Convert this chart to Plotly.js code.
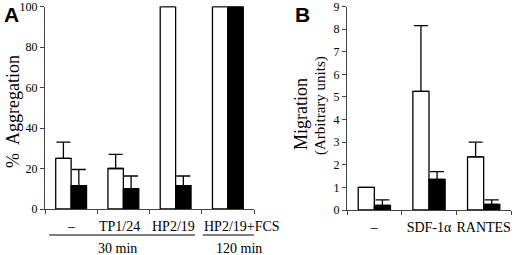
<!DOCTYPE html>
<html>
<head>
<meta charset="utf-8">
<script src="https://cdn.plot.ly/plotly-3.0.1.min.js"></script>
<style>html,body{margin:0;padding:0;background:#fff}#chart{width:520px;height:255px}</style>
</head>
<body>
<div id="chart"></div>
<script>
// Panel A data
var catsA = ['–', 'TP1/24', 'HP2/19', 'HP2/19+FCS'];
var whiteA = [25, 20, 100, 100];
var whiteAErr = [8, 7, 0, 0];
var blackA = [11.5, 10, 11.5, 100];
var blackAErr = [8, 6.3, 4.8, 0];
var ticksA = [0, 20, 40, 60, 80, 100];
var groupsA = ['30 min', '120 min'];

// Panel B data
var catsB = ['–', 'SDF-1α', 'RANTES'];
var whiteB = [1.0, 5.25, 2.35];
var whiteBErr = [0, 2.9, 0.65];
var blackB = [0.2, 1.35, 0.25];
var blackBErr = [0.25, 0.35, 0.2];
var ticksB = [0, 1, 2, 3, 4, 5, 6, 7, 8, 9];

var serif = 'Liberation Serif, Times New Roman, serif';
var sans = 'Liberation Sans, Arial, sans-serif';

function errObj(arr) {
  return {type: 'data', array: arr, symmetric: false, arrayminus: arr.map(function(){return 0;}),
          color: '#000', thickness: 1.3, width: 7};
}

var data = [
  {type: 'bar', x: catsA, y: whiteA, xaxis: 'x', yaxis: 'y',
   marker: {color: '#fff', line: {color: '#000', width: 1.3}}, error_y: errObj(whiteAErr)},
  {type: 'bar', x: catsA, y: blackA, xaxis: 'x', yaxis: 'y',
   marker: {color: '#000', line: {color: '#000', width: 1.3}}, error_y: errObj(blackAErr)},
  {type: 'bar', x: catsB, y: whiteB, xaxis: 'x2', yaxis: 'y2',
   marker: {color: '#fff', line: {color: '#000', width: 1.3}}, error_y: errObj(whiteBErr)},
  {type: 'bar', x: catsB, y: blackB, xaxis: 'x2', yaxis: 'y2',
   marker: {color: '#000', line: {color: '#000', width: 1.3}}, error_y: errObj(blackBErr)}
];

var axBase = {showline: true, linecolor: '#444', linewidth: 1, ticks: 'outside', ticklen: 4,
  tickcolor: '#444', showgrid: false, zeroline: false, fixedrange: true, ticklabeloverflow: 'allow',
  tickfont: {family: serif, size: 12, color: '#000'}};

function ax(extra) { var o = {}; for (var k in axBase) o[k] = axBase[k]; for (var e in extra) o[e] = extra[e]; return o; }

var catFont = {family: serif, size: 14, color: '#000'};

// category labels of panel A as annotations (the last one sits right of its slot, as in the figure)
var catShiftA = [0, -4, -2, 14];
var annotations = catsA.map(function(c, i) {
  return {text: c, xref: 'x', yref: 'paper', x: c, y: 29/255, xshift: catShiftA[i],
          showarrow: false, font: catFont, xanchor: 'center', yanchor: 'middle'};
});
annotations = annotations.concat([
  {text: groupsA[0], xref: 'x', yref: 'paper', x: catsA[1], y: 7/255, xshift: -6, showarrow: false,
   font: catFont, xanchor: 'center', yanchor: 'middle'},
  {text: groupsA[1], xref: 'x', yref: 'paper', x: catsA[3], y: 7/255, xshift: 11, showarrow: false,
   font: catFont, xanchor: 'center', yanchor: 'middle'},
  {text: '%  Aggregation', xref: 'paper', yref: 'paper', x: 13/520, y: 143/255, textangle: -90,
   xanchor: 'center', yanchor: 'middle',
   showarrow: false, font: {family: serif, size: 18, color: '#000'}},
  {text: 'Migration', xref: 'paper', yref: 'paper', x: 301/520, y: 141/255,
   xanchor: 'center', yanchor: 'middle',
   textangle: -90, showarrow: false, font: {family: serif, size: 18, color: '#000'}},
  {text: '(Arbitrary units)', xref: 'paper', yref: 'paper', x: 321/520, y: 149/255,
   xanchor: 'center', yanchor: 'middle',
   textangle: -90, showarrow: false, font: {family: serif, size: 15, color: '#000'}},
  {text: '<b>A</b>', xref: 'paper', yref: 'paper', x: 11/520, y: 241/255, showarrow: false,
   xanchor: 'center', yanchor: 'middle', font: {family: sans, size: 21, color: '#000'}},
  {text: '<b>B</b>', xref: 'paper', yref: 'paper', x: 302/520, y: 241/255, showarrow: false,
   xanchor: 'center', yanchor: 'middle', font: {family: sans, size: 21, color: '#000'}}
]);

var layout = {
  width: 520, height: 255,
  margin: {l: 0, r: 0, t: 0, b: 0},
  paper_bgcolor: '#fff', plot_bgcolor: '#fff',
  showlegend: false,
  barmode: 'group', bargap: 0.41, bargroupgap: 0,
  font: {family: serif, color: '#000'},
  xaxis: ax({domain: [45/520, 254/520], anchor: 'y', type: 'category', range: [-0.5, 3.5],
    tickson: 'boundaries', showticklabels: false}),
  yaxis: ax({domain: [46/255, 248.5/255], anchor: 'x', range: [0, 100], tickvals: ticksA}),
  xaxis2: ax({domain: [347/520, 511/520], anchor: 'y2', type: 'category', range: [-0.5, 2.5],
    tickson: 'boundaries', tickangle: 0, tickfont: catFont, ticklabelstandoff: 4}),
  yaxis2: ax({domain: [45/255, 248.5/255], anchor: 'x2', range: [0, 9], tickvals: ticksB}),
  shapes: [
    {type: 'line', xref: 'x', yref: 'paper', x0: -0.42, x1: 2.37, y0: 20/255, y1: 20/255,
     line: {color: '#000', width: 1.2}},
    {type: 'line', xref: 'x', yref: 'paper', x0: 2.52, x1: 3.94, y0: 20/255, y1: 20/255,
     line: {color: '#000', width: 1.2}}
  ],
  annotations: annotations
};

Plotly.newPlot('chart', data, layout, {staticPlot: true, displayModeBar: false});
</script>
</body>
</html>
